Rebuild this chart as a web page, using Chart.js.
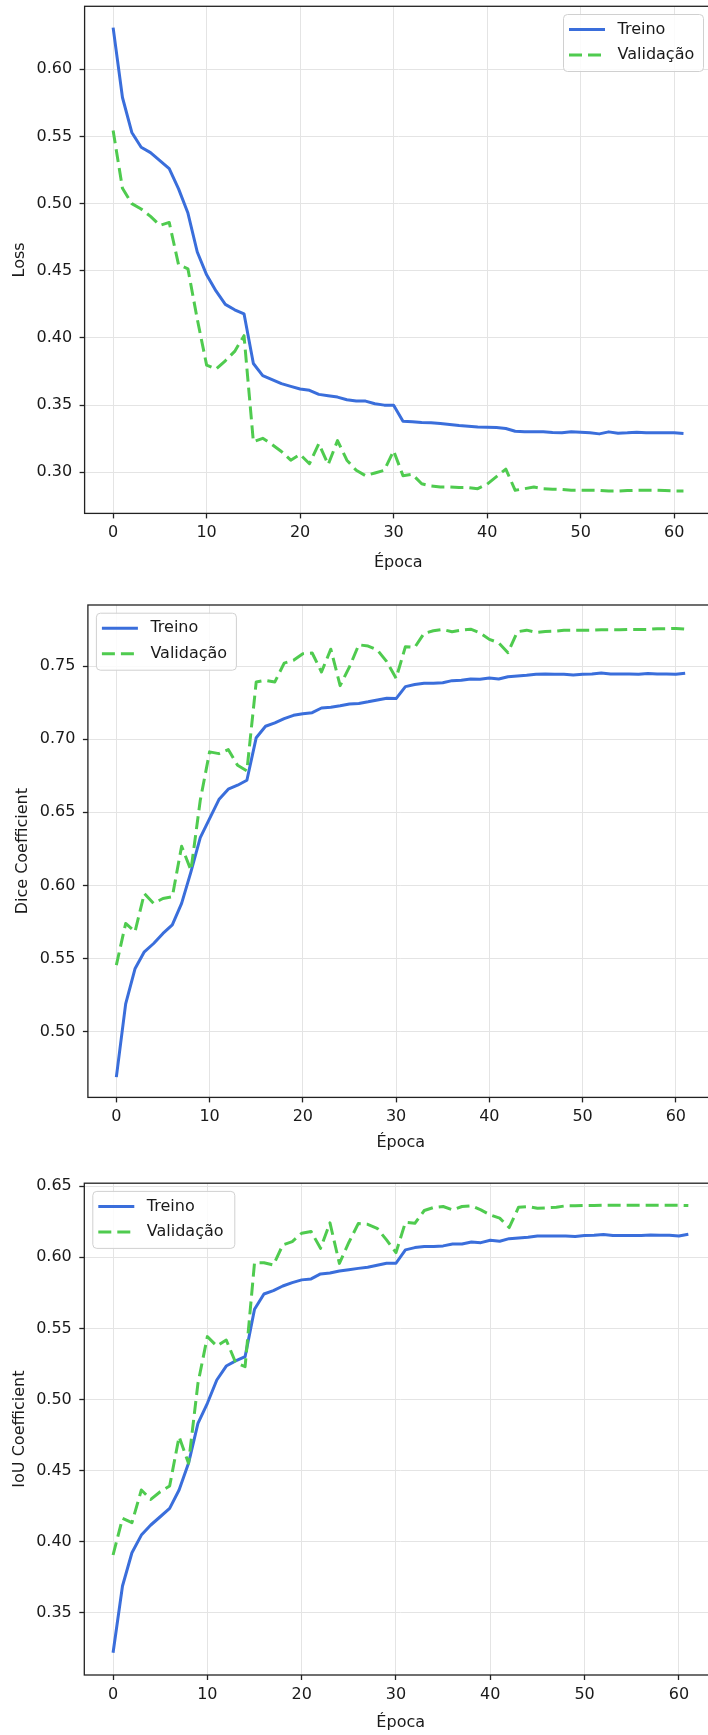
<!DOCTYPE html>
<html>
<head>
<meta charset="utf-8">
<script src="https://cdn.jsdelivr.net/npm/chart.js@4/dist/chart.umd.min.js"></script>
<style>
html,body{margin:0;padding:0;background:#ffffff;overflow:hidden;width:708px;height:1735px;}
#wrap{position:relative;width:708px;height:1735px;overflow:hidden;background:#ffffff;}
canvas{position:absolute;left:0;}
</style>
</head>
<body>
<div id="wrap">
<canvas id="c1" width="720" height="585" style="top:0px"></canvas>
<canvas id="c2" width="720" height="580" style="top:585px"></canvas>
<canvas id="c3" width="720" height="570" style="top:1165px"></canvas>
</div>
<script>
// ---------- DATA ----------
const epocas = [0,1,2,3,4,5,6,7,8,9,10,11,12,13,14,15,16,17,18,19,20,21,22,23,24,25,26,27,28,29,30,31,32,33,34,35,36,37,38,39,40,41,42,43,44,45,46,47,48,49,50,51,52,53,54,55,56,57,58,59,60,61];

const lossTreino = [0.631,0.579,0.553,0.542,0.538,0.532,0.526,0.511,0.493,0.464,0.447,0.435,0.425,0.421,0.418,0.381,0.372,0.369,0.366,0.364,0.362,0.361,0.358,0.357,0.356,0.354,0.353,0.353,0.351,0.350,0.350,0.338,0.3376,0.337,0.3368,0.3363,0.3356,0.3348,0.3343,0.3338,0.3336,0.3333,0.3326,0.3306,0.3301,0.3301,0.3301,0.3296,0.3294,0.3301,0.3299,0.3294,0.3286,0.3301,0.3291,0.3294,0.3299,0.3294,0.3294,0.3294,0.3294,0.3289];
const lossValidacao = [0.5545,0.5114,0.500,0.496,0.4905,0.4838,0.486,0.4545,0.4515,0.414,0.3798,0.3768,0.383,0.390,0.4017,0.3227,0.3253,0.3207,0.3155,0.309,0.3133,0.3064,0.3214,0.3057,0.3236,0.309,0.3015,0.2975,0.2995,0.3015,0.316,0.2975,0.2985,0.2915,0.2898,0.289,0.289,0.2886,0.2886,0.2878,0.2912,0.2968,0.3024,0.2866,0.2878,0.2891,0.2878,0.2874,0.2872,0.2866,0.2866,0.2866,0.2866,0.2861,0.2861,0.2864,0.2866,0.2866,0.2866,0.2864,0.2861,0.2861];

const diceTreino = [0.469,0.519,0.543,0.5546,0.5603,0.5672,0.573,0.5877,0.6093,0.6327,0.6457,0.6587,0.6658,0.6685,0.6719,0.701,0.7088,0.7111,0.714,0.7163,0.7174,0.7181,0.7213,0.7218,0.7228,0.724,0.7244,0.7255,0.7268,0.728,0.7277,0.7359,0.7373,0.7382,0.7382,0.7386,0.74,0.7402,0.7411,0.7409,0.7418,0.7411,0.7427,0.7432,0.7436,0.7443,0.7445,0.7443,0.7443,0.7439,0.7443,0.7445,0.7452,0.7445,0.7445,0.7445,0.7443,0.7448,0.7445,0.7445,0.7443,0.745];
const diceValidacao = [0.5455,0.574,0.5683,0.5945,0.5877,0.5911,0.5922,0.6268,0.6104,0.6582,0.6913,0.6901,0.6929,0.6821,0.6783,0.7391,0.7402,0.7391,0.752,0.7539,0.7584,0.7589,0.7459,0.7615,0.7366,0.7494,0.7645,0.7636,0.7609,0.753,0.7416,0.7632,0.7627,0.7723,0.7741,0.775,0.7734,0.7745,0.7752,0.7727,0.7682,0.7659,0.7591,0.7734,0.7745,0.773,0.7736,0.7738,0.7745,0.7745,0.7745,0.7745,0.7748,0.7748,0.7748,0.775,0.775,0.775,0.7755,0.7755,0.7757,0.7752];

const iouTreino = [0.3219,0.3688,0.3922,0.4046,0.4117,0.4175,0.4234,0.4363,0.4551,0.4832,0.4973,0.5137,0.5235,0.5271,0.5301,0.5634,0.5742,0.5765,0.5798,0.5822,0.5841,0.5848,0.5883,0.5889,0.5903,0.5913,0.5922,0.593,0.5944,0.5958,0.5958,0.6052,0.6068,0.6075,0.6075,0.608,0.6094,0.6094,0.6108,0.6103,0.612,0.6113,0.6131,0.6136,0.6141,0.615,0.615,0.615,0.615,0.6146,0.6153,0.6155,0.616,0.6153,0.6153,0.6153,0.6153,0.6157,0.6155,0.6155,0.615,0.6162];
const iouValidacao = [0.3906,0.4164,0.4133,0.4363,0.4297,0.4351,0.4391,0.4738,0.4551,0.5113,0.5442,0.5376,0.5418,0.5259,0.5231,0.5962,0.5962,0.5946,0.6087,0.611,0.6169,0.6181,0.6063,0.6242,0.5957,0.6104,0.6237,0.6232,0.6204,0.6122,0.6033,0.6246,0.6239,0.6329,0.635,0.6357,0.6333,0.6357,0.6362,0.6333,0.6298,0.6275,0.6209,0.6352,0.6357,0.6345,0.6348,0.6352,0.6362,0.6362,0.6364,0.6364,0.6366,0.6366,0.6366,0.6366,0.6366,0.6366,0.6366,0.6366,0.6366,0.6364];

const xTicks = [0,10,20,30,40,50,60];
const lossTicks = [0.30,0.35,0.40,0.45,0.50,0.55,0.60];
const diceTicks = [0.50,0.55,0.60,0.65,0.70,0.75];
const iouTicks = [0.35,0.40,0.45,0.50,0.55,0.60,0.65];

const serieNomes = ['Treino','Validação'];
const xTitulo = 'Época';

// ---------- STYLE ----------
const FONT = 'DejaVu Sans';
const TXT = '#1a1a1a';
const BLUE = '#3a6edb';
const GREEN = '#4fcb4f';
const DASH = [13, 6];
const LW = 3;

const spinesAndLegend = {
  id: 'mplDecor',
  afterDatasetsDraw(chart, args, opts) {
    const ctx = chart.ctx;
    const a = chart.chartArea;
    ctx.save();
    ctx.strokeStyle = '#222222';
    ctx.lineWidth = 1.3;
    ctx.setLineDash([]);
    ctx.strokeRect(a.left, a.top, a.right - a.left, a.bottom - a.top);
    const w = opts.w || 140, h = 57;
    const bx = opts.align === 'right' ? a.right - 8.5 - w : a.left + 8.5;
    const by = a.top + 8.2;
    ctx.beginPath();
    if (ctx.roundRect) ctx.roundRect(bx, by, w, h, 4); else ctx.rect(bx, by, w, h);
    ctx.fillStyle = 'rgba(255,255,255,0.85)';
    ctx.fill();
    ctx.strokeStyle = '#d0d0d0';
    ctx.lineWidth = 1;
    ctx.stroke();
    const rows = [by + 15, by + 40.5];
    const ds = chart.data.datasets;
    ctx.font = '16px "' + FONT + '"';
    ctx.textBaseline = 'middle';
    ctx.textAlign = 'left';
    for (let i = 0; i < 2; i++) {
      const d = ds[i];
      ctx.beginPath();
      ctx.strokeStyle = d.borderColor;
      ctx.lineWidth = d.borderWidth;
      ctx.lineCap = 'butt';
      ctx.setLineDash(d.borderDash || []);
      ctx.moveTo(bx + 5.5, rows[i]);
      ctx.lineTo(bx + 41.5, rows[i]);
      ctx.stroke();
      ctx.setLineDash([]);
      ctx.fillStyle = TXT;
      ctx.fillText(d.label, bx + 54, rows[i]);
    }
    ctx.restore();
  }
};

function makeChart(id, p) {
  const c = document.getElementById(id);
  const W = c.width, H = c.height;
  const toPts = arr => arr.map((v, i) => ({x: epocas[i], y: v}));
  return new Chart(c, {
    type: 'line',
    data: {
      datasets: [
        {label: serieNomes[0], data: toPts(p.treino), borderColor: BLUE, borderWidth: LW,
         pointRadius: 0, tension: 0, order: 1, borderJoinStyle: 'round', borderCapStyle: 'butt', fill: false},
        {label: serieNomes[1], data: toPts(p.val), borderColor: GREEN, borderWidth: LW, borderDash: DASH,
         pointRadius: 0, tension: 0, order: 0, borderJoinStyle: 'round', borderCapStyle: 'butt', fill: false}
      ]
    },
    options: {
      responsive: false,
      animation: false,
      devicePixelRatio: 1,
      layout: {padding: {left: 0, top: p.area.top, right: W - p.area.right, bottom: 0}},
      plugins: {legend: {display: false}, tooltip: {enabled: false}, mplDecor: {align: p.legend, w: p.legW}},
      scales: {
        x: {
          type: 'linear', min: -3.05, max: 64.05,
          afterBuildTicks: s => { s.ticks = xTicks.map(v => ({value: v})); },
          afterFit: s => { s.height = H - p.area.bottom; s.paddingLeft = 0; s.paddingRight = 0; },
          grid: {color: '#e4e4e4', lineWidth: 1, tickColor: '#222222', tickWidth: 1.3, tickLength: 5, drawTicks: true},
          border: {display: false},
          ticks: {color: TXT, font: {family: FONT, size: 16}, padding: 5, maxRotation: 0, autoSkip: false,
                  callback: v => String(v)},
          title: {display: true, text: xTitulo, color: TXT, font: {family: FONT, size: 16},
                  padding: {top: 0, bottom: p.xTitlePad}}
        },
        y: {
          type: 'linear', min: p.ymin, max: p.ymax,
          afterBuildTicks: s => { s.ticks = p.yTicks.map(v => ({value: v})); },
          afterFit: s => { s.width = p.area.left; s.paddingTop = 0; s.paddingBottom = 0; },
          grid: {color: '#e4e4e4', lineWidth: 1, tickColor: '#222222', tickWidth: 1.3, tickLength: 5, drawTicks: true},
          border: {display: false},
          ticks: {color: TXT, font: {family: FONT, size: 16}, padding: 7.5, autoSkip: false,
                  callback: v => Number(v).toFixed(2)},
          title: {display: true, text: p.yTitle, color: TXT, font: {family: FONT, size: 16},
                  padding: {top: p.yTitlePad, bottom: 0}}
        }
      }
    },
    plugins: [spinesAndLegend]
  });
}

makeChart('c1', {treino: lossTreino, val: lossValidacao, yTicks: lossTicks, ymin: 0.2694, ymax: 0.6469,
  yTitle: 'Loss', legend: 'right', legW: 140,
  area: {left: 84.6, top: 6.3, right: 712, bottom: 513.4}, xTitlePad: 13, yTitlePad: 10.7});

makeChart('c2', {treino: diceTreino, val: diceValidacao, yTicks: diceTicks, ymin: 0.4551, ymax: 0.7917,
  yTitle: 'Dice Coefficient', legend: 'left', legW: 140,
  area: {left: 87.9, top: 20, right: 713.6, bottom: 512.4}, xTitlePad: 13, yTitlePad: 13.5});

makeChart('c3', {treino: iouTreino, val: iouValidacao, yTicks: iouTicks, ymin: 0.3062, ymax: 0.6521,
  yTitle: 'IoU Coefficient', legend: 'left', legW: 142,
  area: {left: 84.3, top: 18.2, right: 717.1, bottom: 510}, xTitlePad: 2.4, yTitlePad: 10.3});
</script>
</body>
</html>
